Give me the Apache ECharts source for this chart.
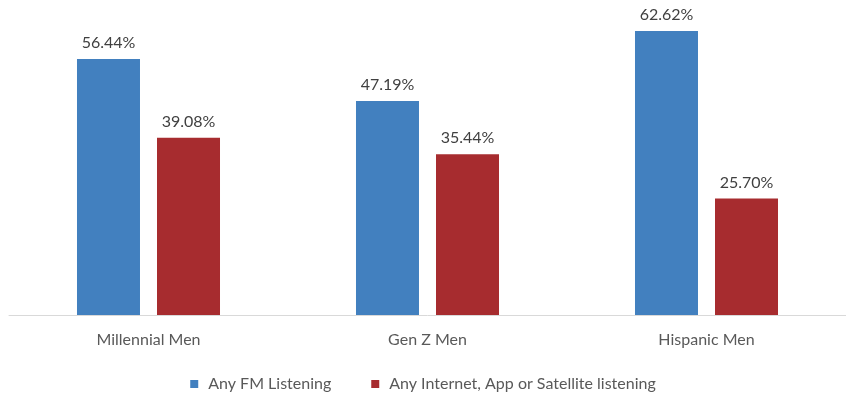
<!DOCTYPE html>
<html><head><meta charset="utf-8">
<script src="https://cdn.jsdelivr.net/npm/echarts@6/dist/echarts.min.js"></script>
<style>html,body{margin:0;padding:0;background:#fff}#c{width:846px;height:394px}</style>
</head><body><div id="c"></div>
<script>
const categories = ['Millennial Men', 'Gen Z Men', 'Hispanic Men'];
const fmValues = [56.44, 47.19, 62.62];
const internetValues = [39.08, 35.44, 25.70];
const seriesNames = ['Any FM Listening', 'Any Internet, App or Satellite listening'];

const chart = echarts.init(document.getElementById('c'));
const font = 'Lato, "Open Sans", sans-serif';
const lbl = {show: true, position: 'top', distance: 8, color: '#404040', fontSize: 16, fontFamily: font,
  formatter: p => p.value.toFixed(2) + '%'};
chart.setOption({
  animation: false,
  grid: {left: 9, width: 845, top: 0, height: 315, containLabel: false},
  legend: {top: 371, left: 'center', itemWidth: 8, itemHeight: 8, itemGap: 40,
    icon: 'rect', textStyle: {color: '#595959', fontSize: 16, fontFamily: font, padding: [0, 0, 0, 5]},
    data: seriesNames},
  xAxis: {type: 'category', data: categories,
    axisLine: {lineStyle: {color: '#d9d9d9', width: 1}}, axisTick: {show: false},
    axisLabel: {color: '#595959', fontSize: 16, fontFamily: font, margin: 17}},
  yAxis: {type: 'value', min: 0, max: 69.46, show: false, splitLine: {show: false}},
  series: [
    {name: seriesNames[0], type: 'bar', data: fmValues, barWidth: 63, barGap: '27%',
      itemStyle: {color: '#4280BF'}, label: lbl},
    {name: seriesNames[1], type: 'bar', data: internetValues, barWidth: 63, barGap: '27%',
      itemStyle: {color: '#A72C2F'}, label: lbl}
  ]
});
</script></body></html>
